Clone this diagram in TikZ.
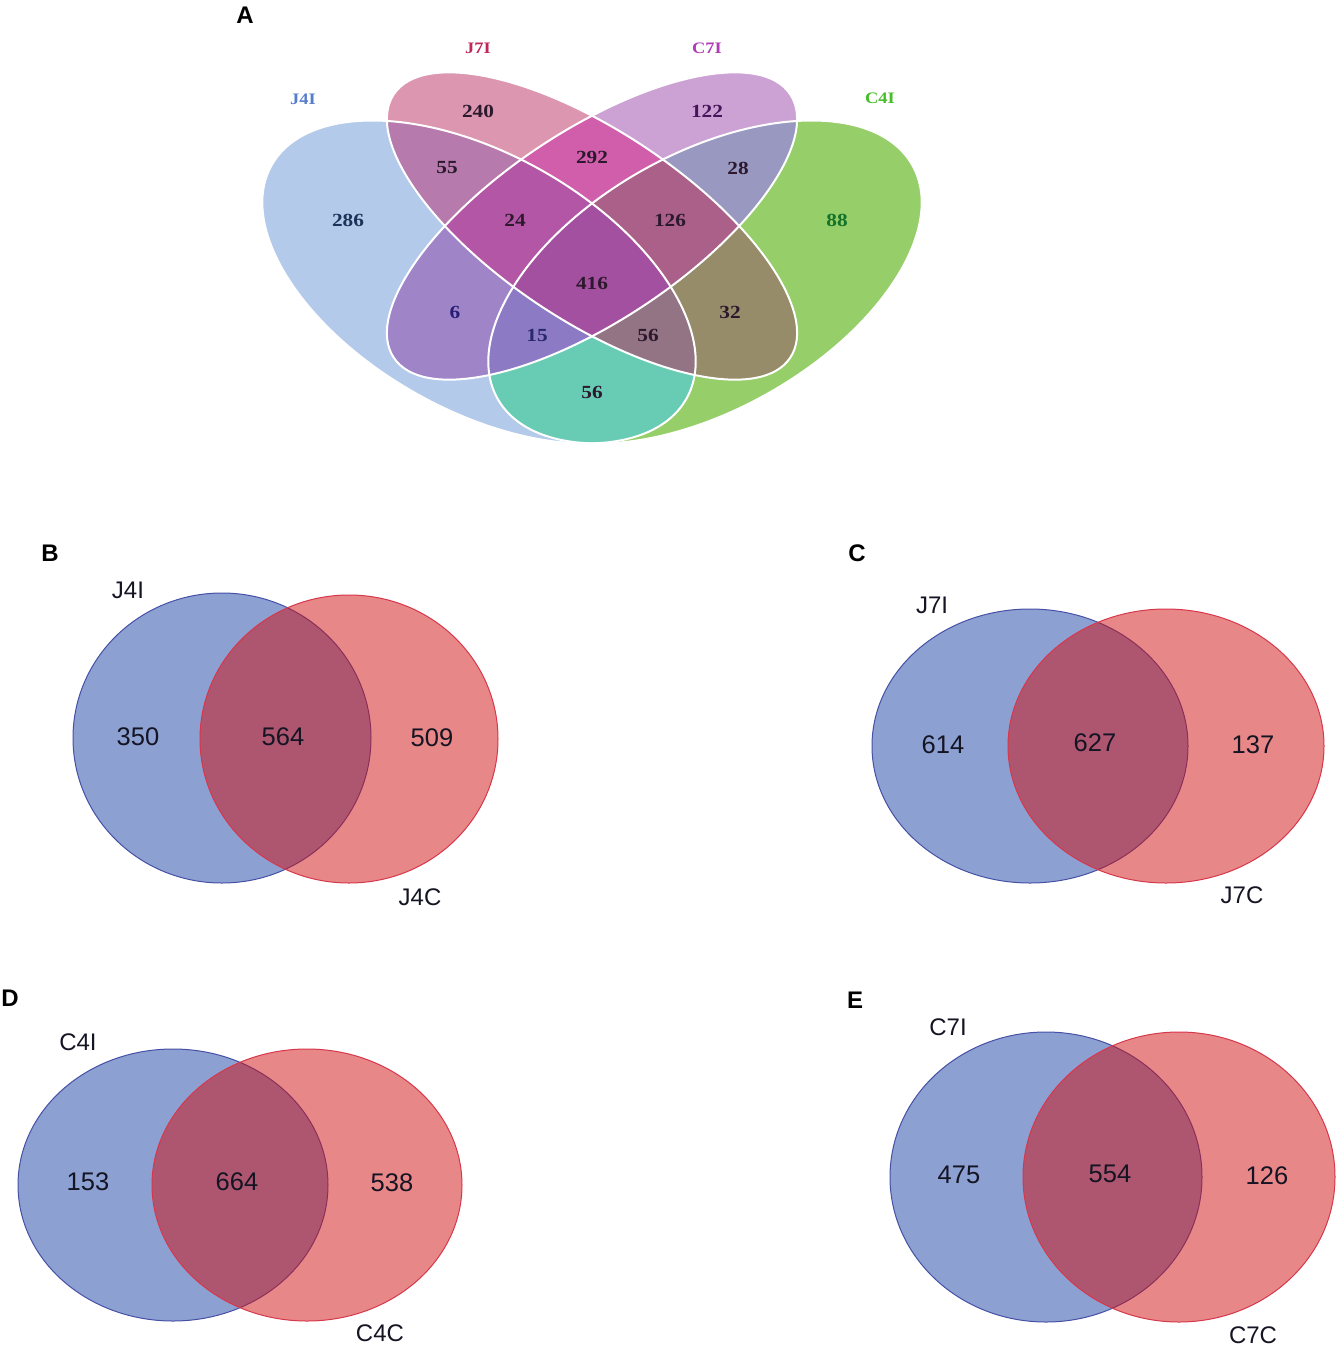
\documentclass[tikz,border=0pt]{standalone}
\usepackage{fontspec}
\setmainfont{Liberation Sans}
\newfontfamily\vennserif{Liberation Serif}[FakeStretch=1.15]

% region colours of the four-set diagram
\definecolor{vA}{RGB}{180,202,234}
\definecolor{vB}{RGB}{220,150,176}
\definecolor{vC}{RGB}{204,162,212}
\definecolor{vD}{RGB}{150,206,106}
\definecolor{vAB}{RGB}{182,122,172}
\definecolor{vAC}{RGB}{160,132,200}
\definecolor{vAD}{RGB}{104,204,180}
\definecolor{vBC}{RGB}{208,94,170}
\definecolor{vBD}{RGB}{150,140,106}
\definecolor{vCD}{RGB}{152,152,192}
\definecolor{vABC}{RGB}{180,86,166}
\definecolor{vABD}{RGB}{146,116,132}
\definecolor{vACD}{RGB}{140,122,196}
\definecolor{vBCD}{RGB}{170,96,136}
\definecolor{vABCD}{RGB}{164,80,160}
\definecolor{quadtxt}{RGB}{45,25,45}
\definecolor{pairblue}{RGB}{25,65,165}
\definecolor{pairred}{RGB}{209,15,15}
\definecolor{pairblueline}{RGB}{70,80,165}
\definecolor{pairredline}{RGB}{215,55,75}
\definecolor{pairtxt}{RGB}{20,20,35}

% A = J4I, B = J7I, C = C7I, D = C4I
\newcommand\inA{\clip[rotate around={-29.4:(479,282)}] (479,282) ellipse [x radius=238, y radius=128];}
\newcommand\inB{\clip[rotate around={-33.6:(592,226)}] (592,226) ellipse [x radius=238, y radius=95];}
\newcommand\inC{\clip[rotate around={33.6:(592,226)}] (592,226) ellipse [x radius=238, y radius=95];}
\newcommand\inD{\clip[rotate around={29.4:(705,282)}] (705,282) ellipse [x radius=238, y radius=128];}
\newcommand\vennpart[2]{\begin{scope}#1\fill[#2] (200,40) rectangle (1000,480);\end{scope}}

\tikzset{
  vennedge/.style={draw=white, line width=2pt},
  quadnum/.style={font=\vennserif\bfseries\fontsize{18.5}{18.5}\selectfont, text=quadtxt},
  quadlbl/.style={font=\vennserif\bfseries\fontsize{16}{16}\selectfont},
  pairI/.style={fill=pairblue, fill opacity=0.5, draw=pairblueline, line width=1pt},
  pairC/.style={fill=pairred, fill opacity=0.5, draw=pairredline, line width=1pt},
  pairnum/.style={font=\fontsize{25.5}{25.5}\selectfont, text=pairtxt},
  pairlbl/.style={font=\fontsize{24}{24}\selectfont, text=pairtxt},
  panel/.style={font=\bfseries\fontsize{24}{24}\selectfont},
}

\begin{document}
\begin{tikzpicture}[x=1pt, y=-1pt]
  \useasboundingbox (0,0) rectangle (1341,1358);

  % A: four sets, lower regions painted first
  \vennpart{\inA}{vA}
  \vennpart{\inB}{vB}
  \vennpart{\inC}{vC}
  \vennpart{\inD}{vD}
  \vennpart{\inA\inB}{vAB}
  \vennpart{\inA\inC}{vAC}
  \vennpart{\inA\inD}{vAD}
  \vennpart{\inB\inC}{vBC}
  \vennpart{\inB\inD}{vBD}
  \vennpart{\inC\inD}{vCD}
  \vennpart{\inA\inB\inC}{vABC}
  \vennpart{\inA\inB\inD}{vABD}
  \vennpart{\inA\inC\inD}{vACD}
  \vennpart{\inB\inC\inD}{vBCD}
  \vennpart{\inA\inB\inC\inD}{vABCD}
  \foreach \cx/\cy/\ang/\ry in {479/282/-29.4/128, 592/226/-33.6/95, 592/226/33.6/95, 705/282/29.4/128}
    \draw[vennedge, rotate around={\ang:(\cx,\cy)}] (\cx,\cy) ellipse [x radius=238, y radius=\ry];

  \node[panel] (pA) at (245,15) {A};
  \node[quadlbl, text={rgb,255:red,85;green,125;blue,205}] (lJ4I) at (303,99) {J4I};
  \node[quadlbl, text={rgb,255:red,190;green,40;blue,90}] (lJ7I) at (478,48) {J7I};
  \node[quadlbl, text={rgb,255:red,175;green,60;blue,180}] (lC7I) at (707,48) {C7I};
  \node[quadlbl, text={rgb,255:red,70;green,190;blue,40}] (lC4I) at (880,98) {C4I};

  \node[quadnum, text={rgb,255:red,30;green,50;blue,90}] (n286) at (348,220) {286};
  \node[quadnum] (n240) at (478,111) {240};
  \node[quadnum, text={rgb,255:red,70;green,20;blue,90}] (n122) at (707,111) {122};
  \node[quadnum, text={rgb,255:red,20;green,115;blue,40}] (n88) at (837,220) {88};
  \node[quadnum] (n55) at (447,168) {55};
  \node[quadnum] (n292) at (592,157) {292};
  \node[quadnum] (n28) at (738,168) {28};
  \node[quadnum] (n24) at (515,220) {24};
  \node[quadnum] (n126) at (670,220) {126};
  \node[quadnum] (n416) at (592,283) {416};
  \node[quadnum, text={rgb,255:red,40;green,30;blue,120}] (n6) at (455,312) {6};
  \node[quadnum] (n32) at (730,312) {32};
  \node[quadnum, text={rgb,255:red,40;green,40;blue,110}] (n15) at (537,335) {15};
  \node[quadnum] (n56a) at (648,335) {56};
  \node[quadnum] (n56b) at (592,392) {56};

  % B
  \node[panel] (pB) at (50,553) {B};
  \draw[pairI] (222,738) ellipse [x radius=149, y radius=145];
  \draw[pairC] (349,739) ellipse [x radius=149, y radius=144];
  \node[pairlbl] (lJ4Ib) at (128,590) {J4I};
  \node[pairlbl] (lJ4C) at (420,897) {J4C};
  \node[pairnum] (n350) at (138,737) {350};
  \node[pairnum] (n564) at (283,737) {564};
  \node[pairnum] (n509) at (432,738) {509};

  % C
  \node[panel] (pC) at (857,553) {C};
  \draw[pairI] (1030,746) ellipse [x radius=158, y radius=137];
  \draw[pairC] (1166,746) ellipse [x radius=158, y radius=137];
  \node[pairlbl] (lJ7Ib) at (932,605) {J7I};
  \node[pairlbl] (lJ7C) at (1242,895) {J7C};
  \node[pairnum] (n614) at (943,745) {614};
  \node[pairnum] (n627) at (1095,743) {627};
  \node[pairnum] (n137) at (1253,745) {137};

  % D
  \node[panel] (pD) at (10,998) {D};
  \draw[pairI] (173,1185) ellipse [x radius=155, y radius=136];
  \draw[pairC] (307,1185) ellipse [x radius=155, y radius=136];
  \node[pairlbl] (lC4Ib) at (78,1042) {C4I};
  \node[pairlbl] (lC4C) at (380,1333) {C4C};
  \node[pairnum] (n153) at (88,1182) {153};
  \node[pairnum] (n664) at (237,1182) {664};
  \node[pairnum] (n538) at (392,1183) {538};

  % E
  \node[panel] (pE) at (855,1000) {E};
  \draw[pairI] (1046,1177) ellipse [x radius=156, y radius=145];
  \draw[pairC] (1179,1177) ellipse [x radius=156, y radius=145];
  \node[pairlbl] (lC7Ib) at (948,1027) {C7I};
  \node[pairlbl] (lC7C) at (1253,1335) {C7C};
  \node[pairnum] (n475) at (959,1175) {475};
  \node[pairnum] (n554) at (1110,1174) {554};
  \node[pairnum] (n126b) at (1267,1176) {126};
\end{tikzpicture}
\end{document}
